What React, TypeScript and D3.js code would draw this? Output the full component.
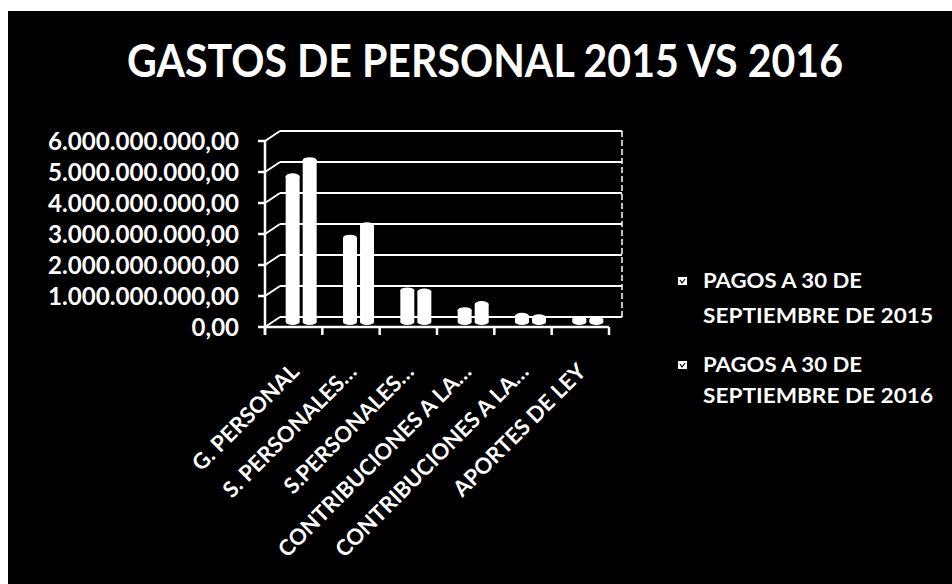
import React from "react";
import * as d3 from "d3";

const categories = [
  "G. PERSONAL",
  "S. PERSONALES…",
  "S.PERSONALES…",
  "CONTRIBUCIONES A LA…",
  "CONTRIBUCIONES A LA…",
  "APORTES DE LEY",
];
const seriesNames = ["PAGOS A 30 DE SEPTIEMBRE DE 2015", "PAGOS A 30 DE SEPTIEMBRE DE 2016"];
const legendLines = [
  ["PAGOS A 30 DE", "SEPTIEMBRE DE 2015"],
  ["PAGOS A 30 DE", "SEPTIEMBRE DE 2016"],
];
const values2015 = [4.7e9, 2.72e9, 1.02e9, 0.38e9, 0.2e9, 0.1e9];
const values2016 = [5.22e9, 3.12e9, 0.98e9, 0.58e9, 0.15e9, 0.08e9];
const tickValues = [0, 1e9, 2e9, 3e9, 4e9, 5e9, 6e9];
const tickLabels = [
  "0,00",
  "1.000.000.000,00",
  "2.000.000.000,00",
  "3.000.000.000,00",
  "4.000.000.000,00",
  "5.000.000.000,00",
  "6.000.000.000,00",
];
const title = "GASTOS DE PERSONAL 2015 VS 2016";

export default function App() {
  const W = 952, H = 584;
  const FONT = "Lato, 'Open Sans', sans-serif";
  const depthX = 15, depthY = -10;
  const x0 = d3.scaleBand<number>().domain(d3.range(categories.length)).range([265, 609]);
  const y = d3.scaleLinear().domain([0, 6e9]).range([327, 141]);
  const x1 = d3.scaleBand<number>().domain([0, 1]).range([0, 31]).paddingInner(0.18);
  const series = [values2015, values2016];
  const zeroMid = y(0) + depthY / 2;
  const backRight = 609 + depthX - 2;

  return (
    <svg width={W} height={H} style={{ position: "fixed", left: 0, top: 0, display: "block" }}>
      <rect x={0} y={0} width={W} height={H} fill="#fff" />
      <rect x={8} y={11} width={W - 8} height={H - 11} fill="#000" />
      <text x={127} y={77} fill="#fff" fontFamily={FONT} fontWeight={700} fontSize={45}
        textLength={716} lengthAdjust="spacingAndGlyphs">{title}</text>

      {/* back wall gridlines and side wall diagonals */}
      {tickValues.map((v, i) => (
        <g key={"g" + i} stroke="#fff" strokeWidth={2} fill="none">
          <line x1={x0.range()[0] + depthX} x2={backRight} y1={y(v) + depthY} y2={y(v) + depthY} />
          <line x1={x0.range()[0]} y1={y(v)} x2={x0.range()[0] + depthX} y2={y(v) + depthY} />
        </g>
      ))}
      <line x1={backRight} x2={backRight} y1={y(6e9) + depthY} y2={y(0) + depthY} stroke="#fff" strokeWidth={1.5} strokeDasharray="6 3" />

      {/* bars (cylinders) */}
      {categories.map((c, ci) => {
        const cx = (x0(ci) as number) + x0.bandwidth() / 2 + depthX / 2 - 15.5;
        return series.map((vals, si) => {
          const bx = cx + (x1(si) as number);
          const bw = x1.bandwidth();
          const top = y(vals[ci]) + depthY / 2;
          const ry = 3;
          return (
            <g key={ci + "-" + si} fill="#fff">
              <rect x={bx} y={top} width={bw} height={Math.max(0, zeroMid - top)} />
              <ellipse cx={bx + bw / 2} cy={top} rx={bw / 2} ry={ry} />
              <ellipse cx={bx + bw / 2} cy={zeroMid} rx={bw / 2} ry={ry} />
            </g>
          );
        });
      })}

      {/* front axes */}
      <line x1={265} x2={265} y1={y(6e9)} y2={y(0) + 8} stroke="#fff" strokeWidth={2.5} />
      <line x1={265} x2={609} y1={y(0)} y2={y(0)} stroke="#fff" strokeWidth={2.5} />
      {tickValues.map((v, i) => (
        <line key={"t" + i} x1={258} x2={265} y1={y(v)} y2={y(v)} stroke="#fff" strokeWidth={2.5} />
      ))}
      {d3.range(categories.length + 1).map((i) => {
        const xx = i < categories.length ? (x0(i) as number) : x0.range()[1];
        return <line key={"ct" + i} x1={xx} x2={xx} y1={y(0)} y2={y(0) + 8} stroke="#fff" strokeWidth={2.5} />;
      })}

      {/* y tick labels */}
      {tickValues.map((v, i) => (
        <text key={"yl" + i} x={239} y={y(v) + 9} textAnchor="end" fill="#fff" fontFamily={FONT}
          fontWeight={700} fontSize={24}
          {...(tickLabels[i].length > 6 ? { textLength: 191, lengthAdjust: "spacingAndGlyphs" } : {})}>
          {tickLabels[i]}
        </text>
      ))}

      {/* category labels */}
      {categories.map((c, ci) => {
        const ax = (x0(ci) as number) + x0.bandwidth() / 2 + 7;
        const ay = 373;
        return (
          <text key={"cl" + ci} x={ax} y={ay} textAnchor="end" fill="#fff" fontFamily={FONT}
            fontWeight={700} fontSize={22} transform={`rotate(-45 ${ax} ${ay})`}>
            {c}
          </text>
        );
      })}

      {/* legend */}
      {seriesNames.map((s, si) => {
        const base = si === 0 ? [288, 323] : [372, 403];
        return (
          <g key={"lg" + si}>
            <rect x={678} y={base[0] - 11} width={9} height={8} fill="#fff" />
            <path d={`M${680},${base[0] - 8} l2,3 l3,-4`} stroke="#000" strokeWidth={1.2} fill="none" />
            <text x={703} y={base[0]} fill="#fff" fontFamily={FONT} fontWeight={700} fontSize={21}
              textLength={159} lengthAdjust="spacingAndGlyphs">{legendLines[si][0]}</text>
            <text x={703} y={base[1]} fill="#fff" fontFamily={FONT} fontWeight={700} fontSize={21}
              textLength={230} lengthAdjust="spacingAndGlyphs">{legendLines[si][1]}</text>
          </g>
        );
      })}
    </svg>
  );
}
